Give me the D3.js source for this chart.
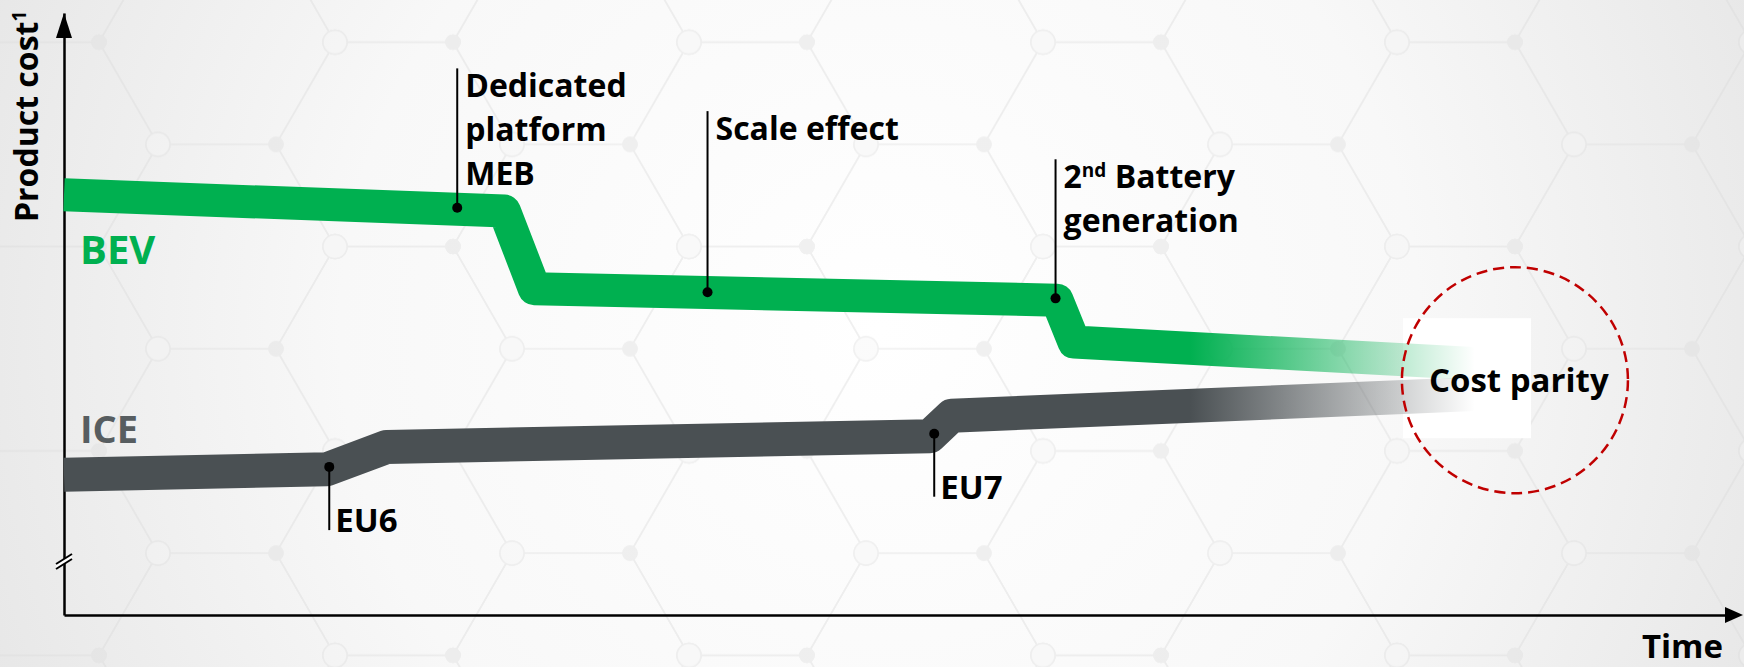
<!DOCTYPE html>
<html lang="en">
<head>
    <meta charset="utf-8">
    <title>Product cost BEV vs ICE</title>
    <style>
        body { margin: 0; background: #fff; }
        text { font-family: 'Open Sans', 'Noto Sans', sans-serif; font-weight: 700; }
    </style>
</head>
<body>

<div id="cost-chart" style="width:1744px; height:667px"></div>

<script src="https://d3js.org/d3.v7.min.js"></script>

<script type="text/javascript">

    // values, time and cost on a 0..100 scale
    var timeDomain = [0, 100];
    var costDomain = [0, 100];

    var bevTime = [0, 26.5, 28.3, 59.75, 60.77, 80.6, 87.3];
    var bevCost = [69.8, 67.1, 54.2, 52.3, 45.35, 42.4, 41.4];

    var iceTime = [0, 15.8, 19.4, 52.1, 53.4, 80.6, 87.3];
    var iceCost = [23.3, 24.2, 27.9, 29.7, 33.1, 36.2, 37.0];

    var milestoneLabels = [["Dedicated", "platform", "MEB"], ["Scale effect"], ["2nd Battery", "generation"], ["EU6"], ["EU7"]];
    var milestoneTime = [23.66, 38.72, 59.66, 15.96, 52.36];
    var milestoneCost = [67.66, 53.6, 52.6, 24.6, 30.1];
    var leaderEndCost = [90.8, 83.7, 75.7, 14.1, 19.65];

    var parityTime = 87.3;
    var parityCost = 39.0;

    var width = 1744,
            height = 667;

    var green = "#00b050",
            grey = "#4a5053";

    var svg = d3.select("#cost-chart")
            .append("svg")
            .attr("width", width)
            .attr("height", height);

    var x = d3.scaleLinear().domain(timeDomain).range([64, 1726]);
    var y = d3.scaleLinear().domain(costDomain).range([615, 13]);

    var defs = svg.append("defs");

    var bg = defs.append("radialGradient")
            .attr("id", "bg")
            .attr("gradientUnits", "userSpaceOnUse")
            .attr("cx", 880).attr("cy", 330).attr("r", 980);
    bg.append("stop").attr("offset", "0").attr("stop-color", "#ffffff");
    bg.append("stop").attr("offset", "0.55").attr("stop-color", "#f8f8f8");
    bg.append("stop").attr("offset", "1").attr("stop-color", "#e6e6e6");

    // faint honeycomb network behind the chart
    var s = 118, hh = Math.sqrt(3) / 2 * s;
    var hex = defs.append("pattern")
            .attr("id", "hex")
            .attr("patternUnits", "userSpaceOnUse")
            .attr("width", 3 * s)
            .attr("height", 2 * hh)
            .attr("patternTransform", "translate(40,-60)");
    [[0, 0], [3 * s, 0], [0, 2 * hh], [3 * s, 2 * hh], [1.5 * s, hh]].forEach(function (c) {
        var pts = d3.range(6).map(function (k) {
            var a = Math.PI / 3 * k;
            return [c[0] + s * Math.cos(a), c[1] + s * Math.sin(a)];
        });
        hex.append("path")
                .attr("d", "M" + pts.join("L") + "Z")
                .style("fill", "none")
                .style("stroke", "#d9d9d9")
                .style("stroke-width", 1.5);
        pts.forEach(function (p, k) {
            hex.append("circle")
                    .attr("cx", p[0]).attr("cy", p[1])
                    .attr("r", k % 2 ? 7 : 12)
                    .style("fill", k % 2 ? "#dcdcdc" : "#f4f4f4")
                    .style("stroke", "#dcdcdc")
                    .style("stroke-width", 1.5);
        });
    });

    function fade(id, color) {
        var g = defs.append("linearGradient")
                .attr("id", id)
                .attr("gradientUnits", "userSpaceOnUse")
                .attr("x1", 1190).attr("x2", 1475)
                .attr("y1", 0).attr("y2", 0);
        g.append("stop").attr("offset", "0").attr("stop-color", color).attr("stop-opacity", 1);
        g.append("stop").attr("offset", "1").attr("stop-color", color).attr("stop-opacity", 0);
    }
    fade("bevFade", green);
    fade("iceFade", grey);

    svg.append("rect")
            .attr("width", width).attr("height", height)
            .style("fill", "url(#bg)");
    svg.append("rect")
            .attr("width", width).attr("height", height)
            .style("fill", "url(#hex)")
            .style("opacity", 0.4);

    // white patch under the parity label
    svg.append("rect")
            .attr("x", x(parityTime) - 112).attr("y", y(parityCost) - 62)
            .attr("width", 128).attr("height", 120)
            .style("fill", "#ffffff");

    // axes
    var yAxis = svg.append("g")
            .attr("transform", "translate(" + x(0) + ",0)")
            .call(d3.axisLeft(y).tickValues([]).tickSizeOuter(0));
    var xAxis = svg.append("g")
            .attr("transform", "translate(0," + y(0) + ")")
            .call(d3.axisBottom(x).tickValues([]).tickSizeOuter(0));
    svg.selectAll(".domain").style("stroke", "#000").style("stroke-width", 2.5);

    var yTop = y.range()[1], xEnd = width - 1;
    svg.append("path")
            .attr("d", "M" + (x(0) - 8) + "," + (yTop + 25) + "L" + x(0) + "," + yTop + "L" + (x(0) + 8) + "," + (yTop + 25) + "Z")
            .style("fill", "#000");
    svg.append("path")
            .attr("d", "M" + (xEnd - 18) + "," + (y(0) - 8) + "L" + xEnd + "," + y(0) + "L" + (xEnd - 18) + "," + (y(0) + 8) + "Z")
            .style("fill", "#000");

    // axis break
    var bx = x(0), by = y(0) - 55;
    svg.append("path")
            .attr("d", "M" + (bx - 8) + "," + (by + 4) + "L" + (bx + 8) + "," + (by - 6) + "L" + (bx + 8) + "," + (by - 1) + "L" + (bx - 8) + "," + (by + 9) + "Z")
            .style("fill", "#fff");
    [0, 5].forEach(function (o) {
        svg.append("line")
                .attr("x1", bx - 8).attr("y1", by + 4 + o)
                .attr("x2", bx + 8).attr("y2", by - 6 + o)
                .style("stroke", "#000")
                .style("stroke-width", 2);
    });

    svg.append("text")
            .attr("transform", "translate(38," + (y(0) - 393) + ") rotate(-90)")
            .style("font-size", "32px")
            .style("fill", "#000")
            .text("Product cost")
            .append("tspan")
            .attr("dy", -12)
            .style("font-size", "19px")
            .text("1");

    svg.append("text")
            .attr("x", 1723)
            .attr("y", 658)
            .attr("text-anchor", "end")
            .style("font-size", "33px")
            .style("fill", "#000")
            .text("Time");

    // cost lines
    var line = d3.line()
            .x(function (d) { return x(d.t); })
            .y(function (d) { return y(d.c); });

    var bevData = bevTime.map(function (t, i) { return {t: t, c: bevCost[i]}; });
    var iceData = iceTime.map(function (t, i) { return {t: t, c: iceCost[i]}; });

    svg.append("path")
            .datum(iceData)
            .attr("d", line)
            .style("fill", "none")
            .style("stroke", "url(#iceFade)")
            .style("stroke-width", 34)
            .style("stroke-linejoin", "round");

    svg.append("path")
            .datum(bevData)
            .attr("d", line)
            .style("fill", "none")
            .style("stroke", "url(#bevFade)")
            .style("stroke-width", 33)
            .style("stroke-linejoin", "round");

    svg.append("text")
            .attr("x", x(0) + 16)
            .attr("y", 264)
            .style("font-size", "40px")
            .style("fill", green)
            .text("BEV");

    svg.append("text")
            .attr("x", x(0) + 16)
            .attr("y", 443)
            .style("font-size", "38px")
            .style("fill", "#575d60")
            .text("ICE");

    // milestones: dot, leader and label
    var milestones = milestoneLabels.map(function (l, i) {
        return {lines: l, t: milestoneTime[i], c: milestoneCost[i], end: leaderEndCost[i]};
    });

    var ms = svg.selectAll(".milestone")
            .data(milestones)
            .enter().append("g")
            .attr("class", "milestone");

    ms.append("line")
            .attr("x1", function (d) { return x(d.t); })
            .attr("x2", function (d) { return x(d.t); })
            .attr("y1", function (d) { return y(d.c); })
            .attr("y2", function (d) { return y(d.end); })
            .style("stroke", "#000")
            .style("stroke-width", 2);

    ms.append("circle")
            .attr("cx", function (d) { return x(d.t); })
            .attr("cy", function (d) { return y(d.c); })
            .attr("r", 5)
            .style("fill", "#000");

    ms.each(function (d) {
        var above = d.end > d.c;
        var t = d3.select(this).append("text")
                .attr("x", x(d.t) + (above ? 8 : 6))
                .attr("y", above ? y(d.end) + 29 : y(d.end) + 2)
                .style("font-size", above ? "32px" : "33px")
                .style("fill", "#000");
        d.lines.forEach(function (txt, k) {
            var m = txt.match(/^(\d+)(st|nd|rd|th)(.*)$/);
            var ts = t.append("tspan")
                    .attr("x", x(d.t) + (above ? 8 : 6))
                    .attr("dy", k ? 44 : 0);
            if (m) {
                ts.text(m[1]);
                t.append("tspan").attr("dy", -11).style("font-size", "19px").text(m[2]);
                t.append("tspan").attr("dy", 11).text(m[3]);
            } else {
                ts.text(txt);
            }
        });
    });

    // cost parity
    svg.append("circle")
            .attr("cx", x(parityTime))
            .attr("cy", y(parityCost))
            .attr("r", 113)
            .style("fill", "none")
            .style("stroke", "#c00000")
            .style("stroke-width", 2.5)
            .style("stroke-dasharray", "11,6");

    svg.append("text")
            .attr("x", x(parityTime) - 86)
            .attr("y", y(parityCost) + 12)
            .style("font-size", "33px")
            .style("fill", "#000")
            .text("Cost parity");

</script>
</body>
</html>
